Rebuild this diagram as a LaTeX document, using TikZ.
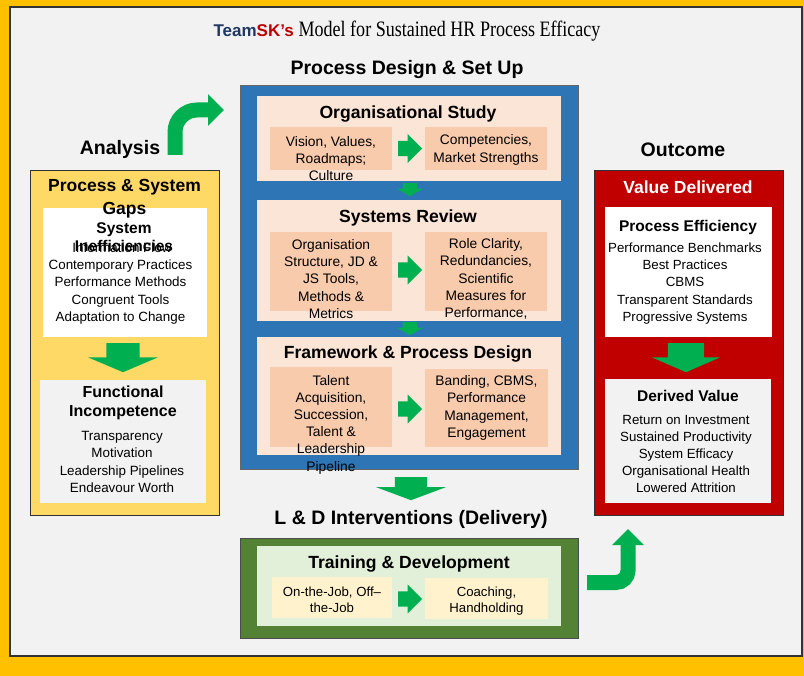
\documentclass[tikz,border=0pt]{standalone}
\usepackage{fontspec}
\setmainfont{Liberation Serif}
\setsansfont{Liberation Sans}
\newfontfamily\titleserif[FakeStretch=0.82]{Liberation Serif}
\usetikzlibrary{positioning,shapes.arrows,arrows.meta,calc}

\definecolor{frameyellow}{HTML}{FFC000}
\definecolor{panelgray}{HTML}{F2F2F2}
\definecolor{designblue}{HTML}{2E75B6}
\definecolor{peachlight}{HTML}{FBE5D6}
\definecolor{peach}{HTML}{F8CBAD}
\definecolor{arrgreen}{HTML}{00B050}
\definecolor{ldgreen}{HTML}{548235}
\definecolor{ldlight}{HTML}{E2F0D9}
\definecolor{ldcream}{HTML}{FFF2CC}
\definecolor{gapyellow}{HTML}{FFD966}
\definecolor{valred}{HTML}{C00000}
\definecolor{teamnavy}{HTML}{1F3864}

\tikzset{
  hdr/.style={font=\sffamily\bfseries\fontsize{19.5}{23}\selectfont},
  ttl/.style={font=\sffamily\bfseries\fontsize{17.6}{23}\selectfont, align=center},
  subttl/.style={font=\sffamily\bfseries\fontsize{16}{19}\selectfont, align=center},
  itm/.style={font=\sffamily\fontsize{13.4}{17.3}\selectfont, align=center},
  subtxt/.style={font=\sffamily\fontsize{13.8}{17.2}\selectfont, align=center},
  panelbox/.style={fill=peachlight, minimum width=304pt, inner sep=0pt},
  subbox/.style={fill=peach, minimum width=122pt, inner sep=0pt},
  rarrow/.style={single arrow, fill=arrgreen, inner xsep=0pt, inner ysep=7.5pt,
    single arrow head extend=7pt, minimum height=24pt, anchor=tail},
  darrow/.style={single arrow, fill=arrgreen, rotate=-90, inner xsep=0pt, anchor=tail},
  bendarrow/.style={draw=arrgreen, line width=15pt, -{Triangle[length=16pt,width=31pt]}}
}

\begin{document}
\begin{tikzpicture}[x=1pt, y=-1pt]
    \useasboundingbox (0,0) rectangle (804,676);
    % Frame
    \fill[frameyellow] (0,0) rectangle (804,676);
    \draw[fill=panelgray, draw=black!80, line width=1.5pt] (10,7) rectangle (802,656);

    % Title
    \node (title) at (407,31) {\sffamily\bfseries\fontsize{17}{20}\selectfont\textcolor{teamnavy}{Team}\textcolor{valred}{SK's} \titleserif\mdseries\fontsize{22}{24}\selectfont Model for Sustained HR Process Efficacy};

    % Process Design & Set Up
    \node[draw=black!60, line width=1pt, fill=designblue, minimum width=338pt, minimum height=384pt, inner sep=0pt] (design) at (409,278) {};
    \node[hdr] (design-lbl) at (407,69.5) {Process Design \& Set Up};

    % Organisational Study
    \node[panelbox, minimum height=85pt] (os) at (409,138.5) {};
    \node[ttl] (os-t) at (408,113.5) {Organisational Study};
    \node[subbox, minimum height=43pt] (osl) at (331,148.5) {};
    \node[subbox, minimum height=43pt] (osr) at (486,148.5) {};
    \node[subtxt] (osl-t) at (331,158.5) {Vision, Values,\\Roadmaps;\\Culture};
    \node[subtxt] (osr-t) at (486,150) {Competencies,\\Market Strengths};
    \node[rarrow] (os-a) at (398,148.5) {};

    % Systems Review
    \node[panelbox, minimum height=121pt] (sr) at (409,260.5) {};
    \node[ttl] (sr-t) at (408,217.5) {Systems Review};
    \node[subbox, minimum height=79pt] (srl) at (331,271.5) {};
    \node[subbox, minimum height=79pt] (srr) at (486,271.5) {};
    \node[subtxt] (srl-t) at (331,279) {Organisation\\Structure, JD \&\\JS Tools,\\Methods \&\\Metrics};
    \node[subtxt] (srr-t) at (486,279) {Role Clarity,\\Redundancies,\\Scientific\\Measures for\\Performance,};
    \node[rarrow] (sr-a) at (398,270) {};

    % Framework & Process Design
    \node[panelbox, minimum height=118pt] (fpd) at (409,396) {};
    \node[ttl] (fpd-t) at (408,353.5) {Framework \& Process Design};
    \node[subbox, minimum height=80pt] (fpdl) at (331,407) {};
    \node[subbox, minimum height=78pt, minimum width=123pt] (fpdr) at (486.5,408) {};
    \node[subtxt] (fpdl-t) at (331,424.5) {Talent\\Acquisition,\\Succession,\\Talent \&\\Leadership\\Pipeline};
    \node[subtxt] (fpdr-t) at (486.5,408) {Banding, CBMS,\\Performance\\Management,\\Engagement};
    \node[rarrow] (fpd-a) at (398,409) {};

    % Links between the design steps
    \node[darrow, inner ysep=7pt, single arrow head extend=6pt, minimum height=13pt, single arrow tip angle=120] (os-sr) at (410,183) {};
    \node[darrow, inner ysep=7pt, single arrow head extend=6pt, minimum height=13pt, single arrow tip angle=120] (sr-fpd) at (410,322) {};
    \node[darrow, inner ysep=16pt, single arrow head extend=19pt, minimum height=23pt, single arrow tip angle=139] (design-ld) at (411,477) {};

    % L & D Interventions
    \node[hdr] (ld-lbl) at (411,519.5) {L \& D Interventions (Delivery)};
    \node[draw=black!70, line width=1pt, fill=ldgreen, minimum width=338pt, minimum height=100pt, inner sep=0pt] (ld) at (409,588) {};
    \node[fill=ldlight, minimum width=304pt, minimum height=80pt, inner sep=0pt] (ld-in) at (409,586) {};
    \node[ttl] (ld-t) at (409,563.5) {Training \& Development};
    \node[fill=ldcream, minimum width=120pt, minimum height=41pt, inner sep=0pt] (ldl) at (332,597.5) {};
    \node[fill=ldcream, minimum width=123pt, minimum height=41pt, inner sep=0pt] (ldr) at (486.5,598.5) {};
    \node[subtxt, font=\sffamily\fontsize{13.2}{16}\selectfont] (ldl-t) at (332,599.5) {On-the-Job, Off--\\the-Job};
    \node[subtxt, font=\sffamily\fontsize{13.2}{16}\selectfont] (ldr-t) at (486.5,601.5) {Coaching,\\Handholding};
    \node[rarrow] (ld-a) at (398,599) {};

    % Analysis
    \node[hdr] (analysis) at (120,149.5) {Analysis};
    \node[draw=black!80, fill=gapyellow, minimum width=189pt, minimum height=345pt, inner sep=0pt] (gaps) at (124.5,342.5) {};
    \node[fill=white, minimum width=164pt, minimum height=129pt, inner sep=0pt] (ineff) at (125,272.5) {};
    \node[ttl, font=\sffamily\bfseries\fontsize{17.5}{23}\selectfont] (gaps-t) at (124.5,199) {Process \& System\\Gaps};
    \node[itm] (ineff-i0) at (122,248) {Information Flow};
    \node[subttl, font=\sffamily\bfseries\fontsize{15.5}{18}\selectfont] (ineff-t) at (124,237) {System\\Inefficiencies};
    \node[itm] (ineff-i) at (120.5,292) {Contemporary Practices\\Performance Methods\\Congruent Tools\\Adaptation to Change};
    \node[darrow, inner ysep=16.5pt, single arrow head extend=18.5pt, minimum height=29pt, single arrow tip angle=134] (gaps-a) at (123,343) {};
    \node[fill=panelgray, minimum width=166pt, minimum height=123pt, inner sep=0pt] (incomp) at (123,441.5) {};
    \node[subttl] (incomp-t) at (123,402.5) {Functional\\Incompetence};
    \node[itm] (incomp-i) at (122,462) {Transparency\\Motivation\\Leadership Pipelines\\Endeavour Worth};

    % Outcome
    \node[hdr] (outcome) at (683,149.5) {Outcome};
    \node[draw=black!80, fill=valred, minimum width=189pt, minimum height=345pt, inner sep=0pt] (value) at (688.5,342.5) {};
    \node[ttl, text=white, font=\sffamily\bfseries\fontsize{17.5}{23}\selectfont] (value-t) at (688,187.5) {Value Delivered};
    \node[fill=white, minimum width=167pt, minimum height=130pt, inner sep=0pt] (effic) at (688.5,272) {};
    \node[subttl, font=\sffamily\bfseries\fontsize{15.5}{19}\selectfont] (effic-t) at (688,227) {Process Efficiency};
    \node[itm, font=\sffamily\fontsize{13.3}{17.3}\selectfont] (effic-i) at (685,283.5) {Performance Benchmarks\\Best Practices\\CBMS\\Transparent Standards\\Progressive Systems};
    \node[darrow, inner ysep=18pt, single arrow head extend=16pt, minimum height=29pt, single arrow tip angle=133] (value-a) at (686,343) {};
    \node[fill=panelgray, minimum width=166pt, minimum height=124pt, inner sep=0pt] (derived) at (688,441) {};
    \node[subttl, font=\sffamily\bfseries\fontsize{15.5}{19}\selectfont] (derived-t) at (688,396) {Derived Value};
    \node[itm, font=\sffamily\fontsize{13.3}{17}\selectfont] (derived-i) at (686,454) {Return on Investment\\Sustained Productivity\\System Efficacy\\Organisational Health\\Lowered Attrition};

    % Bent arrows
    \coordinate (ana-out) at (175,155);
    \coordinate (design-in) at (224,110);
    \draw[bendarrow, rounded corners=22pt] (ana-out) |- (design-in);
    \coordinate (ld-out) at (587,582.5);
    \coordinate (value-in) at (628,529);
    \draw[bendarrow, rounded corners=12pt] (ld-out) -| (value-in);
\end{tikzpicture}
\end{document}
